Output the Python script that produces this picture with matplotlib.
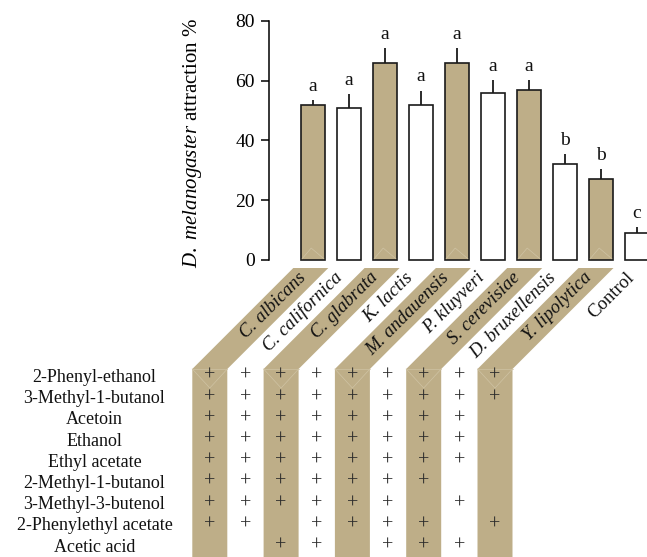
import matplotlib
matplotlib.use("Agg")
import matplotlib.pyplot as plt
from matplotlib.patches import Polygon

plt.rcParams['font.family'] = ['Liberation Serif', 'DejaVu Serif']
plt.rcParams['mathtext.fontset'] = 'custom'
plt.rcParams['mathtext.rm'] = 'Liberation Serif'
plt.rcParams['mathtext.it'] = 'Liberation Serif:italic'

# ---------------- data ----------------
species = ["C. albicans", "C. californica", "C. glabrata", "K. lactis",
           "M. andauensis", "P. kluyveri", "S. cerevisiae", "D. bruxellensis",
           "Y. lipolytica", "Control"]
attraction = [52, 51, 66, 52, 66, 56, 57, 32, 27, 9]
sem = [1.5, 4.4, 4.8, 4.6, 4.8, 4.2, 3.2, 3.4, 3.4, 2.0]
letters = ["a", "a", "a", "a", "a", "a", "a", "b", "b", "c"]
yticks = [0, 20, 40, 60, 80]

compounds = ["2-Phenyl-ethanol", "3-Methyl-1-butanol", "Acetoin", "Ethanol",
             "Ethyl acetate", "2-Methyl-1-butanol", "3-Methyl-3-butenol",
             "2-Phenylethyl acetate", "Acetic acid"]
# presence matrix: rows = compounds, columns = the 9 yeasts (Control has none)
presence = [
    [1, 1, 1, 1, 1, 1, 1, 1, 1],
    [1, 1, 1, 1, 1, 1, 1, 1, 1],
    [1, 1, 1, 1, 1, 1, 1, 1, 0],
    [1, 1, 1, 1, 1, 1, 1, 1, 0],
    [1, 1, 1, 1, 1, 1, 1, 1, 0],
    [1, 1, 1, 1, 1, 1, 1, 0, 0],
    [1, 1, 1, 1, 1, 1, 0, 1, 0],
    [1, 1, 0, 1, 1, 1, 1, 0, 1],
    [0, 0, 1, 1, 0, 1, 1, 1, 0],
]

# ---------------- style ----------------
W, H = 647, 557
TAN = '#BEAE88'
FOLD = '#CFC3A4'

fig = plt.figure(figsize=(W / 100, H / 100), dpi=100)

# background axes in pixel coordinates (bands + table)
bg = fig.add_axes([0, 0, 1, 1], zorder=0)
bg.set_xlim(0, W)
bg.set_ylim(H, 0)
bg.axis('off')

col_x0, col_dx, col_w = 209.8, 35.65, 35.0
fold_y, top_y = 369.0, 268.0
shift = fold_y - top_y  # 45 degree bands
row_y0, row_dy = 377.5, 21.2

n_yeast = len(presence[0])
for i in range(n_yeast):
    cx = col_x0 + col_dx * i
    if i % 2 == 0:
        l, r = cx - col_w / 2, cx + col_w / 2
        poly = Polygon([(l, H + 5), (l, fold_y), (l + shift, top_y), (r + shift, top_y),
                        (r, fold_y), (r, H + 5)], closed=True, facecolor=TAN,
                       edgecolor='none', zorder=1)
        bg.add_patch(poly)
        bg.plot([l, r], [fold_y, fold_y], color=FOLD, lw=0.5, zorder=2)
        bg.plot([l, cx, r], [fold_y, fold_y + 19, fold_y], color=FOLD, lw=0.5, zorder=2)

for k, name in enumerate(compounds):
    y = row_y0 + row_dy * k
    bg.text(94.5, y, name, ha='center', va='center', fontsize=13, color='#111')
    for i in range(n_yeast):
        if presence[k][i]:
            bg.text(col_x0 + col_dx * i, y - 1, '+', ha='center', va='center',
                    fontsize=14.5, color='#2a2a2a', zorder=3)

# category labels along the bands
for i, name in enumerate(species):
    cx = col_x0 + col_dx * i + shift
    ty = 275
    tx = cx - (ty - top_y) + (7 if i == len(species) - 1 else 0)
    bg.text(tx, ty, name, rotation=45, rotation_mode='anchor', ha='right',
            va='center', fontsize=13.5, style='normal' if name == 'Control' else 'italic',
            color='#111', zorder=3)

# ---------------- bar axes ----------------
ax_left_px, ax_top_px, ax_bot_px = 269, 21, 260
bar_c0, bar_dx = 313, 36
xmin = -(bar_c0 - ax_left_px) / bar_dx
xmax = (W - bar_c0) / bar_dx
ax = fig.add_axes([ax_left_px / W, (H - ax_bot_px) / H, (W - ax_left_px) / W,
                   (ax_bot_px - ax_top_px) / H], zorder=2)
ax.patch.set_alpha(0)
x = list(range(len(species)))
colors = [TAN if i % 2 == 0 and i < n_yeast else 'white' for i in x]
ax.bar(x, attraction, width=24 / bar_dx, color=colors, edgecolor='#1a1a1a',
       linewidth=1.2, zorder=3, clip_on=False)
ax.errorbar(x, attraction, yerr=[[0] * len(x), sem], fmt='none', ecolor='#1a1a1a',
            elinewidth=1.3, capsize=0, zorder=2, clip_on=False)
for i in x:
    if colors[i] == TAN:
        bw = 24 / bar_dx
        ax.plot([i - bw / 2 + 0.03, i - 0.05, i + bw / 2 - 0.03], [0.4, 4, 0.4],
                color=FOLD, lw=0.5, zorder=4)
for i, (v, e, t) in enumerate(zip(attraction, sem, letters)):
    ax.text(i, v + e + 3.2, t, ha='center', va='baseline', fontsize=14, color='#111')

ax.set_xlim(xmin, xmax)
ax.set_ylim(0, 80)
ax.set_yticks(yticks)
ax.set_xticks([])
for s in ['top', 'right', 'bottom']:
    ax.spines[s].set_visible(False)
ax.spines['left'].set_linewidth(1.1)
ax.tick_params(axis='y', direction='out', length=6, width=1.1, pad=4, labelsize=14)
ax.set_ylabel(r'$\mathit{D.\ melanogaster}$ attraction %', fontsize=15)
ax.yaxis.set_label_coords(-(ax_left_px - 204) / (W - ax_left_px), 0.49)

fig.savefig('out.png', dpi=100)
